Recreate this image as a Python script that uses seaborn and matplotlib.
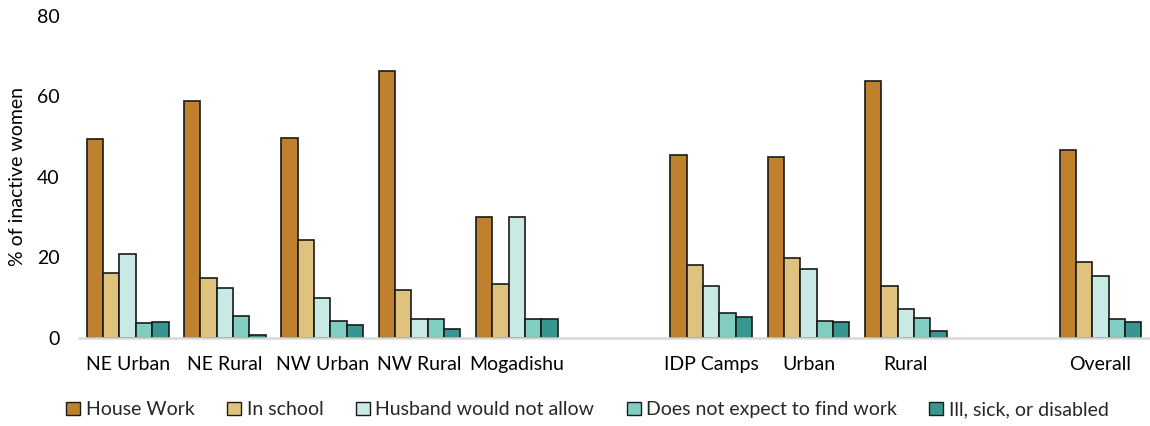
import matplotlib
matplotlib.use("Agg")
import matplotlib.pyplot as plt
import matplotlib.patches as mpatches
import seaborn as sns
import pandas as pd
import numpy as np

categories = ["NE Urban", "NE Rural", "NW Urban", "NW Rural", "Mogadishu",
              " ", "IDP Camps", "Urban", "Rural", "  ", "Overall"]
data_categories = ["NE Urban", "NE Rural", "NW Urban", "NW Rural", "Mogadishu",
                   "IDP Camps", "Urban", "Rural", "Overall"]
series = ["House Work", "In school", "Husband would not allow",
          "Does not expect to find work", "Ill, sick, or disabled"]
house_work = [49.3, 58.9, 49.6, 66.2, 30.0, 45.5, 44.8, 63.8, 46.6]
in_school = [16.0, 14.9, 24.2, 11.9, 13.3, 18.1, 19.8, 12.9, 18.9]
husband = [20.8, 12.5, 9.8, 4.6, 29.9, 13.0, 17.1, 7.2, 15.5]
no_expect = [3.6, 5.5, 4.2, 4.8, 4.8, 6.3, 4.2, 5.0, 4.6]
ill = [4.0, 0.7, 3.2, 2.3, 4.7, 5.2, 3.9, 1.7, 3.9]
colors = ["#bf812d", "#dfc27d", "#c7eae5", "#80cdc1", "#35978f"]
yticks = [0, 20, 40, 60, 80]

rows = []
for s, vals in zip(series, [house_work, in_school, husband, no_expect, ill]):
    for c, v in zip(data_categories, vals):
        rows.append({"category": c, "series": s, "value": v})
df = pd.DataFrame(rows)

sns.set_theme(style="white")
plt.rcParams['font.family'] = ['Lato', 'DejaVu Sans']

fig = plt.figure(figsize=(11.5, 4.26), dpi=100)
ax = fig.add_axes([0.0687, 0.2066, 0.9305, 0.757])

sns.barplot(data=df, x="category", y="value", hue="series", order=categories,
            hue_order=series, palette=colors, saturation=1, width=0.84, ax=ax,
            edgecolor="#1a1a1a", linewidth=1.2, errorbar=None, legend=False)

ax.set_xlim(-0.5, len(categories) - 0.5)
ax.set_ylim(0, 80)
ax.set_yticks(yticks)
ax.set_yticklabels([str(t) for t in yticks])
ax.tick_params(axis="both", length=0, labelsize=14, colors="black")
ax.tick_params(axis="x", pad=13)
ax.tick_params(axis="y", pad=14)
ax.set_xlabel("")
ax.set_ylabel("% of inactive women", fontsize=14, color="black", labelpad=8)
for side in ["top", "right", "left"]:
    ax.spines[side].set_visible(False)
ax.spines["bottom"].set_color("#d9d9d9")
ax.spines["bottom"].set_linewidth(1.8)
ax.grid(False)

handles = [mpatches.Patch(facecolor=c, edgecolor="#1a1a1a", linewidth=1.0, label=s)
           for c, s in zip(colors, series)]
fig.legend(handles=handles, loc="center", bbox_to_anchor=(0.511, 0.038), ncol=5,
           frameon=False, fontsize=14, handlelength=0.72, handleheight=0.72,
           handletextpad=0.3, columnspacing=1.65)

fig.savefig("out.png", dpi=100)
